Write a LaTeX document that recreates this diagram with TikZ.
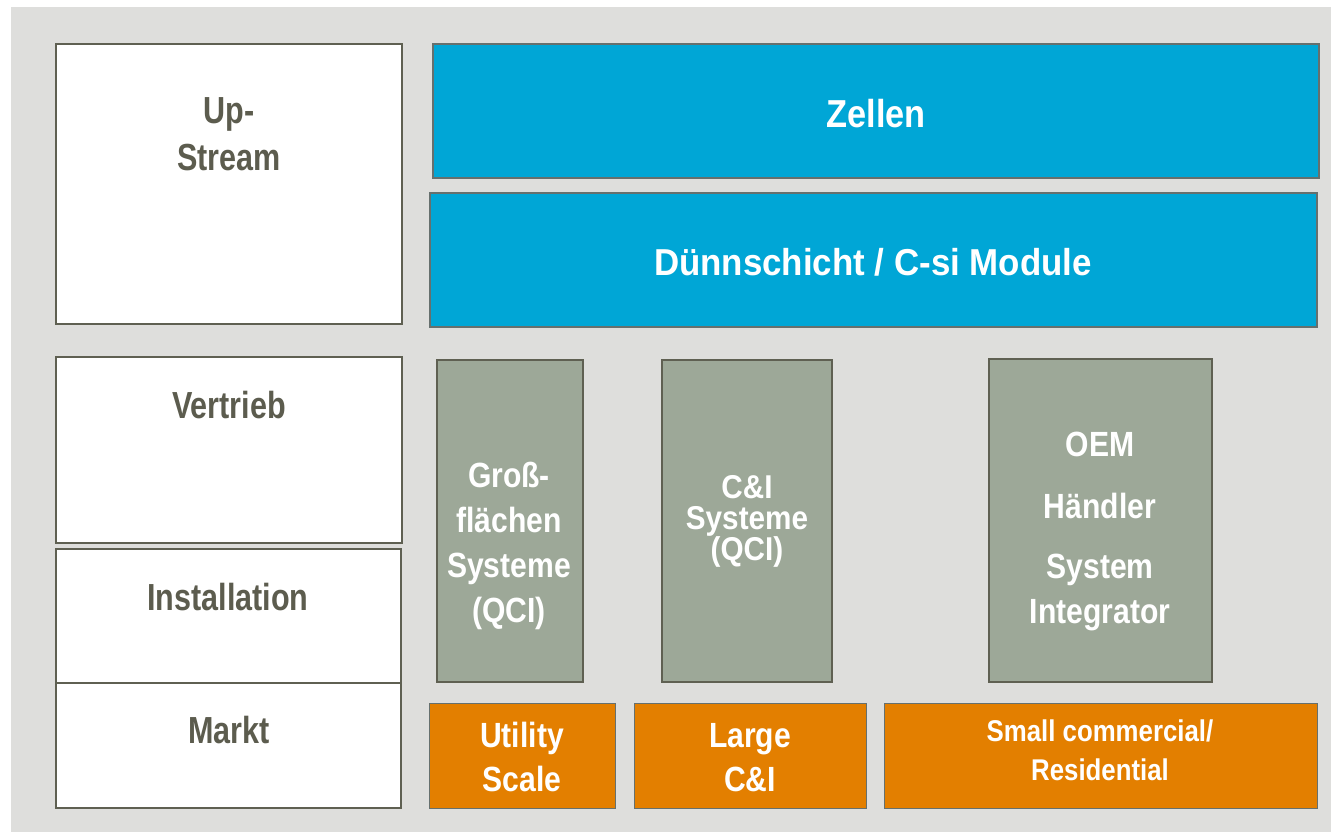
\documentclass[tikz,border=0pt]{standalone}
\usepackage{fontspec}
\setmainfont{Liberation Sans}
\newfontfamily\fN{Liberation Sans}[FakeStretch=0.86]
\newfontfamily\fL{Liberation Sans}[FakeStretch=0.81]
\newfontfamily\fZ{Liberation Sans}[FakeStretch=0.88]
\newfontfamily\fW{Liberation Sans}[FakeStretch=0.93]
\newfontfamily\fC{Liberation Sans}[FakeStretch=0.90]
\definecolor{bggray}{HTML}{DEDEDC}
\definecolor{framegray}{HTML}{5F6052}
\definecolor{textgray}{HTML}{5C5C4E}
\definecolor{cellblue}{HTML}{00A6D6}
\definecolor{sage}{HTML}{9DA898}
\definecolor{mango}{HTML}{E37F00}
\definecolor{thinline}{HTML}{66706E}
\tikzset{
  whitebox/.style={draw=framegray, fill=white, line width=2.6pt, inner sep=0pt, rectangle},
  bluebox/.style={draw=thinline, fill=cellblue, line width=1.2pt, inner sep=0pt, rectangle},
  sagebox/.style={draw=framegray, fill=sage, line width=2.6pt, inner sep=0pt, rectangle},
  orangebox/.style={draw=thinline, fill=mango, line width=1pt, inner sep=0pt, rectangle},
  darklabel/.style={text=textgray, inner sep=0pt, align=center, font=\fL\bfseries\fontsize{37.7}{47}\selectfont},
  lightlabel/.style={text=white, inner sep=0pt, align=center},
}
\begin{document}
\begin{tikzpicture}[x=1pt,y=-1pt]
\useasboundingbox (0,0) rectangle (1331,832);
\fill[bggray] (11,7) rectangle (1331,832);
% left column
\node[whitebox, minimum width=346pt, minimum height=280pt] (upstream) at (229,184) {};
\node[whitebox, minimum width=346pt, minimum height=186pt] (vertrieb) at (229,450) {};
\node[whitebox, minimum width=345pt, minimum height=134pt] (install) at (228.5,616) {};
\node[whitebox, minimum width=345pt, minimum height=125pt] (markt) at (228.5,745.5) {};
% blue bars
\node[bluebox, minimum width=886pt, minimum height=134pt] (zellen) at (876,111) {};
\node[bluebox, minimum width=887pt, minimum height=134pt] (duenn) at (873.5,260) {};
% sage columns
\node[sagebox, minimum width=146pt, minimum height=322pt] (gross) at (510,521) {};
\node[sagebox, minimum width=170pt, minimum height=322pt] (ci) at (747,521) {};
\node[sagebox, minimum width=223pt, minimum height=323pt] (oem) at (1100.5,520.5) {};
% orange market boxes
\node[orangebox, minimum width=186pt, minimum height=105pt] (utility) at (522,755.5) {};
\node[orangebox, minimum width=232pt, minimum height=105pt] (large) at (750,755.5) {};
\node[orangebox, minimum width=433pt, minimum height=105pt] (small) at (1100.5,755.5) {};
% labels
\node[darklabel, anchor=north] (tUp) at (229,97) {Up-\\Stream};
\node[darklabel, anchor=base] (tVer) at (229,418) {Vertrieb};
\node[darklabel, anchor=base] (tIns) at (228,610) {Installation};
\node[darklabel, anchor=base] (tMar) at (229,743) {Markt};
\node[lightlabel, anchor=base, font=\fZ\bfseries\fontsize{39}{46}\selectfont] (tZel) at (876,128) {Zellen};
\node[lightlabel, anchor=base, font=\fW\bfseries\fontsize{37.5}{45}\selectfont] (tDue) at (873,275) {Dünnschicht / C-si Module};
\node[lightlabel, anchor=north, font=\fN\bfseries\fontsize{35}{45}\selectfont] (tGro) at (509,462) {Groß-\\flächen\\Systeme\\(QCI)};
\node[lightlabel, anchor=north, font=\fC\bfseries\fontsize{33}{31}\selectfont] (tCI) at (747,475) {C\&I\\Systeme\\(QCI)};
\node[lightlabel, anchor=north, font=\fN\bfseries\fontsize{35}{45}\selectfont] (tOEM) at (1100,432) {OEM\\[17pt]Händler\\[15pt]System\\Integrator};
\node[lightlabel, anchor=north, font=\fN\bfseries\fontsize{35}{44}\selectfont] (tUti) at (522,722) {Utility\\Scale};
\node[lightlabel, anchor=north, font=\fN\bfseries\fontsize{35}{44}\selectfont] (tLar) at (750,723) {Large\\C\&I};
\node[lightlabel, anchor=north, font=\fN\bfseries\fontsize{30}{39}\selectfont] (tSma) at (1100,720) {Small commercial/\\Residential};
\end{tikzpicture}
\end{document}
